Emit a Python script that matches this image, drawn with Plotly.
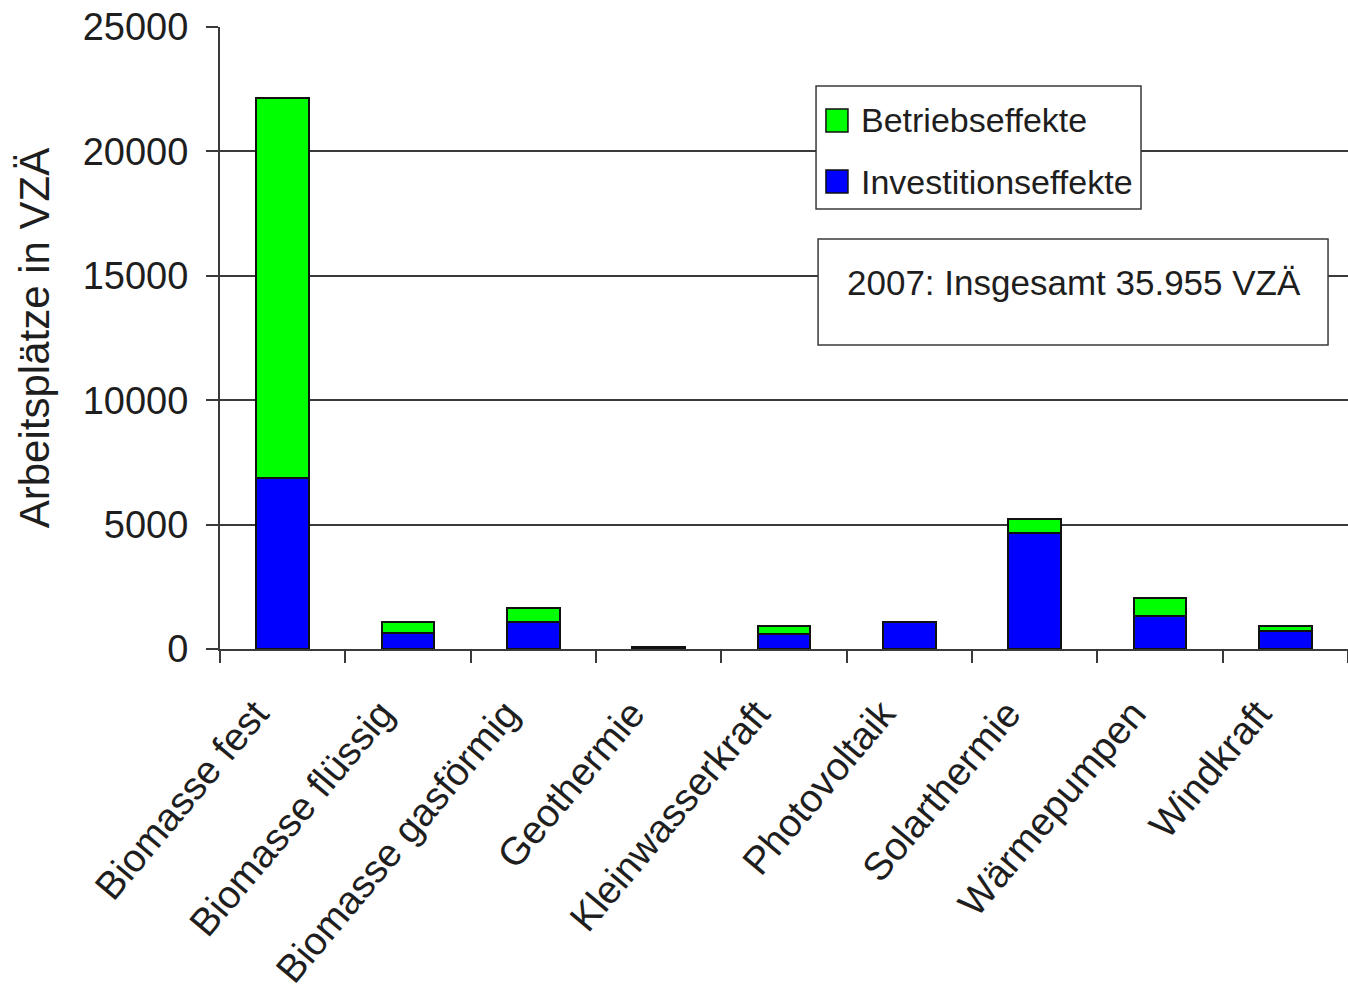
import plotly.graph_objects as go

# Arbeitsplätze (VZÄ) nach Technologie, 2007
kategorien = [
    "Biomasse fest", "Biomasse flüssig", "Biomasse gasförmig", "Geothermie",
    "Kleinwasserkraft", "Photovoltaik", "Solarthermie", "Wärmepumpen", "Windkraft",
]
investitionseffekte = [6880, 630, 1090, 60, 620, 1085, 4670, 1315, 710]
betriebseffekte = [15280, 470, 560, 20, 320, 15, 550, 740, 230]

y_ticks = [0, 5000, 10000, 15000, 20000, 25000]
y_ticktext = ["0", "5000", "10000", "15000", "20000", "25000"]

FONT = "Liberation Sans, Arial, sans-serif"
TEXT = "#1e1e1e"
LINE = "#3a3a3a"
GREEN = "#00ff00"
BLUE = "#0000ff"

fig = go.Figure()
fig.add_trace(go.Bar(
    x=kategorien, y=investitionseffekte, name="Investitionseffekte",
    marker=dict(color=BLUE, line=dict(color="#111111", width=2)),
))
fig.add_trace(go.Bar(
    x=kategorien, y=betriebseffekte, name="Betriebseffekte",
    marker=dict(color=GREEN, line=dict(color="#111111", width=2)),
))

# legend box with square swatches
fig.add_shape(type="rect", xref="paper", yref="paper",
              x0=0.5284, x1=0.8165, y0=0.7074, y1=0.9051,
              line=dict(color=LINE, width=1.5), fillcolor="white", layer="above")
legend_rows = [("Betriebseffekte", GREEN, 0.8497), ("Investitionseffekte", BLUE, 0.7516)]
for label, colour, yc in legend_rows:
    fig.add_shape(type="rect", xref="paper", yref="paper",
                  x0=0.5372, x1=0.5567, y0=yc - 0.0185, y1=yc + 0.0185,
                  line=dict(color="#111111", width=1.5), fillcolor=colour, layer="above")
    fig.add_annotation(xref="paper", yref="paper", x=0.5665, y=yc,
                       text=label, showarrow=False,
                       font=dict(family=FONT, size=34, color=TEXT),
                       xanchor="left", yanchor="middle")

# box with the overall total
fig.add_shape(type="rect", xref="paper", yref="paper",
              x0=0.5302, x1=0.9823, y0=0.4887, y1=0.6592,
              line=dict(color=LINE, width=1.5), fillcolor="white", layer="above")
fig.add_annotation(xref="paper", yref="paper", x=0.757, y=0.589,
                   text="2007: Insgesamt 35.955 VZÄ", showarrow=False,
                   font=dict(family=FONT, size=35, color=TEXT),
                   xanchor="center", yanchor="middle")

fig.update_layout(
    width=1348, height=993,
    margin=dict(l=220, r=0, t=27, b=344),
    paper_bgcolor="white", plot_bgcolor="white",
    barmode="stack", bargap=0.58,
    font=dict(family=FONT, color=TEXT),
    showlegend=False,
    xaxis=dict(
        type="category", tickangle=-50, tickson="boundaries",
        ticks="outside", ticklen=12, tickwidth=2, tickcolor=LINE,
        showline=True, linecolor=LINE, linewidth=2,
        showgrid=False, ticklabelstandoff=24, ticklabelshift=-27,
        tickfont=dict(family=FONT, size=39, color=TEXT),
    ),
    yaxis=dict(
        range=[0, 25000], tickvals=y_ticks, ticktext=y_ticktext,
        ticks="outside", ticklen=12, tickwidth=2, tickcolor=LINE,
        showline=True, linecolor=LINE, linewidth=2,
        showgrid=True, gridcolor=LINE, gridwidth=2,
        zeroline=False, ticklabelstandoff=10,
        tickfont=dict(family=FONT, size=38, color=TEXT),
        title=dict(text="Arbeitsplätze in VZÄ", standoff=20,
                   font=dict(family=FONT, size=42, color=TEXT)),
    ),
)

fig.write_html("out.html")
